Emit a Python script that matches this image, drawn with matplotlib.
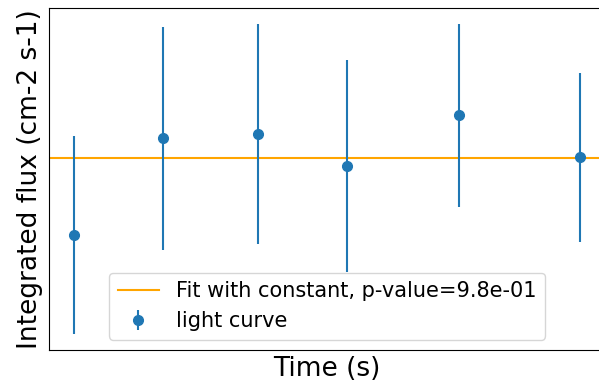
import matplotlib
matplotlib.use("Agg")
import matplotlib.pyplot as plt
import numpy as np

# light curve points (arbitrary units, no tick labels shown)
time = np.array([0, 178, 368, 546, 770, 1012])
flux = np.array([1.15, 2.12, 2.16, 1.84, 2.35, 1.93])
flux_err = np.array([0.99, 1.115, 1.10, 1.06, 0.915, 0.845])
const_fit = 1.92
p_value = 9.8e-01

fig = plt.figure(figsize=(5.99, 3.88), dpi=100)
ax = fig.add_axes([49 / 599, 38 / 388, 556 / 599, 342 / 388])

ax.axhline(const_fit, color="orange", label="Fit with constant, p-value=%.1e" % p_value)
ax.errorbar(time, flux, yerr=flux_err, fmt="o", markersize=7, label="light curve")

ax.set_xticks([])
ax.set_yticks([])
ax.set_xlabel("Time (s)", fontsize=19)
ax.set_ylabel("Integrated flux (cm-2 s-1)", fontsize=19)
ax.legend(loc="lower center", fontsize=15)

fig.savefig("out.png", dpi=100)
